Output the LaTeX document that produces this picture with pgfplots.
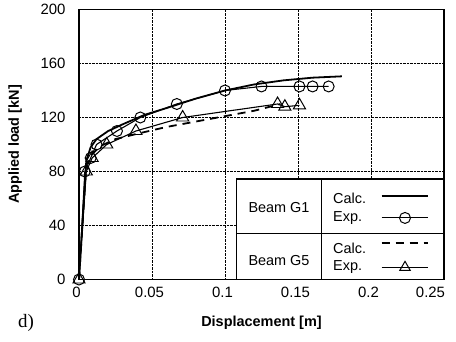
\documentclass[border=0pt]{standalone}
\usepackage{fontspec}
\setmainfont{Liberation Sans}
\newfontfamily\seriffont{Liberation Serif}
\usepackage{pgfplots}
\pgfplotsset{compat=1.18}
\begin{document}
\begin{tikzpicture}
\useasboundingbox (-79bp,-62.5bp) rectangle (377bp,279.5bp);
\begin{axis}[
  at={(0,0)}, anchor=south west, scale only axis,
  width=365bp, height=270bp,
  xmin=0, xmax=0.25, ymin=0, ymax=200,
  xtick={0,0.05,0.1,0.15,0.2,0.25},
  xticklabels={0,0.05,0.1,0.15,0.2,{\kern-22bp 0.25}},
  ytick={0,40,80,120,160,200},
  grid=major, grid style={black, densely dotted, line width=0.6pt},
  axis line style={line width=1.3pt},
  major tick length=0pt,
  tick label style={font=\fontsize{15}{17}\selectfont},
  /pgf/number format/assume math mode=true,
  xticklabel style={yshift=-4bp, xshift=-2.5bp},
  yticklabel style={xshift=-10bp},
  xlabel={Displacement [m]},
  ylabel={Applied load [kN]},
  label style={font=\bfseries\fontsize{14.5}{17}\selectfont},
  xlabel style={at={(axis description cs:0.5,-0.161)}, anchor=center},
  ylabel style={at={(axis description cs:-0.1753,0.5)}, anchor=center},
  clip=false,
]
% Beam G1 calc
\addplot[black, line width=1.8pt] coordinates {
(0,0)(0.005,88)(0.008,98)(0.012,104)(0.02,110)(0.03,115)(0.045,122)(0.06,127)(0.08,134)(0.1,140)(0.12,144.5)(0.14,147.5)(0.16,149.5)(0.18,150.5)};
% Beam G5 calc
\addplot[black, line width=1.8pt, dash pattern=on 8bp off 6bp] coordinates {
(0,0)(0.005,85)(0.009,93)(0.015,99)(0.025,104)(0.04,108)(0.06,113)(0.08,117)(0.1,121)(0.12,125)(0.138,130)};
% Beam G1 exp
\addplot[black, line width=1.1pt, mark=o, mark size=5.5bp, mark options={solid, fill=white, line width=1pt}] coordinates {
(0,0)(0.004,80)(0.008,90)(0.012,100)(0.026,110)(0.042,120)(0.067,130)(0.1,140)(0.125,143)(0.151,143)(0.16,143)(0.171,143)};
% Beam G5 exp
\addplot[black, line width=1.1pt, mark=triangle, mark size=7bp, mark options={solid, fill=white, line width=1pt}] coordinates {
(0,0)(0.005,80)(0.009,90)(0.019,100)(0.039,110)(0.071,120)(0.136,130)(0.141,128)(0.151,129)};
% legend box
\draw[line width=1.2pt, fill=white] (axis cs:0.108,0) rectangle (axis cs:0.25,74.4);
\draw[line width=1pt] (axis cs:0.108,34.4) -- (axis cs:0.25,34.4);
\draw[line width=1pt] (axis cs:0.166,0) -- (axis cs:0.166,74.4);
\addplot[black, line width=1.8pt] coordinates {(0.2073,62.1)(0.2393,62.1)};
\addplot[black, line width=1.1pt, mark=o, mark size=5.5bp, mark indices={2}, mark options={solid, fill=white, line width=1pt}] coordinates {(0.2073,45.6)(0.2233,45.6)(0.2393,45.6)};
\addplot[black, line width=1.8pt, dash pattern=on 8bp off 6bp] coordinates {(0.2073,26.8)(0.2393,26.8)};
\addplot[black, line width=1.1pt, mark=triangle, mark size=6bp, mark indices={2}, mark options={solid, fill=white, line width=1pt}] coordinates {(0.2073,9)(0.2233,9)(0.2393,9)};
\begin{scope}[every node/.style={font=\fontsize{14.5}{17}\selectfont, inner sep=0pt}]
\node at (axis cs:0.137,53.5) {Beam G1};
\node at (axis cs:0.137,14.4) {Beam G5};
\node[anchor=west] at (axis cs:0.174,60.4) {Calc.};
\node[anchor=west] at (axis cs:0.174,45.6) {Exp.};
\node[anchor=west] at (axis cs:0.174,23.3) {Calc.};
\node[anchor=west] at (axis cs:0.174,9.3) {Exp.};
\end{scope}
\end{axis}
\node[font=\seriffont\fontsize{19}{21}\selectfont] at (-53bp,-43.5bp) {d)};
\end{tikzpicture}
\end{document}
